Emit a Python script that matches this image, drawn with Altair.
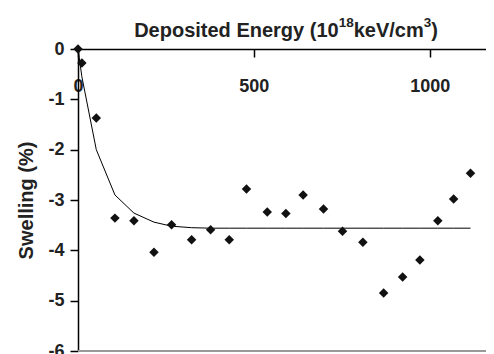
import altair as alt
import pandas as pd

# scatter data (deposited energy, swelling %)
energy = [0, 11, 52, 105, 159, 216, 266, 323, 377, 430, 479, 538, 591, 640, 698,
          752, 810, 869, 923, 972, 1023, 1068, 1116]
swelling = [0, -0.28, -1.37, -3.36, -3.41, -4.04, -3.49, -3.79, -3.59, -3.79, -2.78,
            -3.24, -3.27, -2.90, -3.18, -3.62, -3.84, -4.85, -4.53, -4.19, -3.41,
            -2.98, -2.47]

# fitted curve vertices
fit_energy = [0, 11, 52, 105, 159, 216, 266, 323, 377, 430, 479, 538, 591, 640, 698,
              752, 810, 869, 923, 972, 1023, 1068, 1116]
fit_swelling = [0, -0.55, -2.0, -2.90, -3.26, -3.44, -3.52, -3.55, -3.56, -3.56, -3.56,
                -3.56, -3.56, -3.56, -3.56, -3.56, -3.56, -3.56, -3.56, -3.56, -3.56,
                -3.56, -3.56]

x_ticks = [0, 500, 1000]
y_ticks = [0, -1, -2, -3, -4, -5, -6]

# title pieces: (text, is_superscript)
title_parts = [("Deposited Energy (10", False), ("18", True), ("keV/cm", False),
               ("3", True), (")", False)]

pts = pd.DataFrame({"e": energy, "s": swelling})
fit = pd.DataFrame({"e": fit_energy, "s": fit_swelling})

FONT = "Liberation Sans"
H = 302
W = 408
TITLE_FS = 20
SUP_FS = 13.5

# Arial/Liberation Sans Bold advance widths (per 1000 em) to lay out the title
ADV = {"D": 722, "e": 556, "p": 611, "o": 611, "s": 556, "i": 278, "t": 333,
       "d": 611, " ": 278, "E": 667, "n": 611, "r": 389, "g": 611, "y": 556,
       "(": 333, ")": 333, "1": 556, "0": 556, "8": 556, "3": 556, "k": 556,
       "V": 667, "/": 278, "c": 556, "m": 889}


def text_width(s, fs):
    return sum(ADV[c] for c in s) * fs / 1000.0


widths = [text_width(t, SUP_FS if sup else TITLE_FS) for t, sup in title_parts]
start = W / 2 + 4 - sum(widths) / 2

xscale = alt.Scale(domain=[0, 1160], nice=False, zero=False)
yscale = alt.Scale(domain=[-6, 0], nice=False)

xaxis = alt.Axis(orient="bottom", offset=-H, values=x_ticks, grid=False, format="d",
                 domainColor="black", domainWidth=1.5, tickColor="black",
                 tickWidth=1.5, tickSize=8, labelPadding=20, labelFont=FONT,
                 labelFontSize=18, labelFontWeight="bold", labelColor="#222",
                 title=None, labelFlush=False)
yaxis = alt.Axis(values=y_ticks, grid=False, domainColor="black", domainWidth=1.5,
                 tickColor="black", tickWidth=1.5, tickSize=8, labelPadding=6,
                 labelFont=FONT, labelFontSize=18, labelFontWeight="bold",
                 labelColor="#222",
                 labelExpr="datum.value == 0 ? '0' : '-' + abs(datum.value)",
                 title="Swelling (%)", titleFont=FONT, titleFontSize=20,
                 titleFontWeight="bold", titleColor="#222", titlePadding=11)

base_x = alt.X("e:Q", scale=xscale, axis=xaxis)
base_y = alt.Y("s:Q", scale=yscale, axis=yaxis)

bottom = alt.Chart(pd.DataFrame({"v": [-6]})).mark_rule(
    color="#999", strokeWidth=2).encode(y=alt.Y("v:Q", scale=yscale))

line = alt.Chart(fit).mark_line(color="black", strokeWidth=1).encode(
    x=base_x, y=base_y)

points = alt.Chart(pts).mark_point(shape="diamond", filled=True, color="#111",
                                   size=90, opacity=1).encode(
    x=alt.X("e:Q", scale=xscale), y=alt.Y("s:Q", scale=yscale))

title_layers = []
xpos = start
for (t, sup), w in zip(title_parts, widths):
    title_layers.append(
        alt.Chart(pd.DataFrame({"t": [t]})).mark_text(
            font=FONT, fontWeight="bold", fontSize=SUP_FS if sup else TITLE_FS,
            color="#222", align="left", baseline="alphabetic").encode(
            x=alt.value(xpos), y=alt.value(-22.5 if sup else -12), text="t:N"))
    xpos += w

chart = alt.layer(bottom, line, points, *title_layers).properties(
    width=W, height=H,
    autosize=alt.AutoSizeParams(type="none"),
    padding={"left": 70, "top": 41, "right": 0, "bottom": 3},
).configure_view(stroke=None)

chart.save("out.html", embed_options={"renderer": "svg", "actions": False})
